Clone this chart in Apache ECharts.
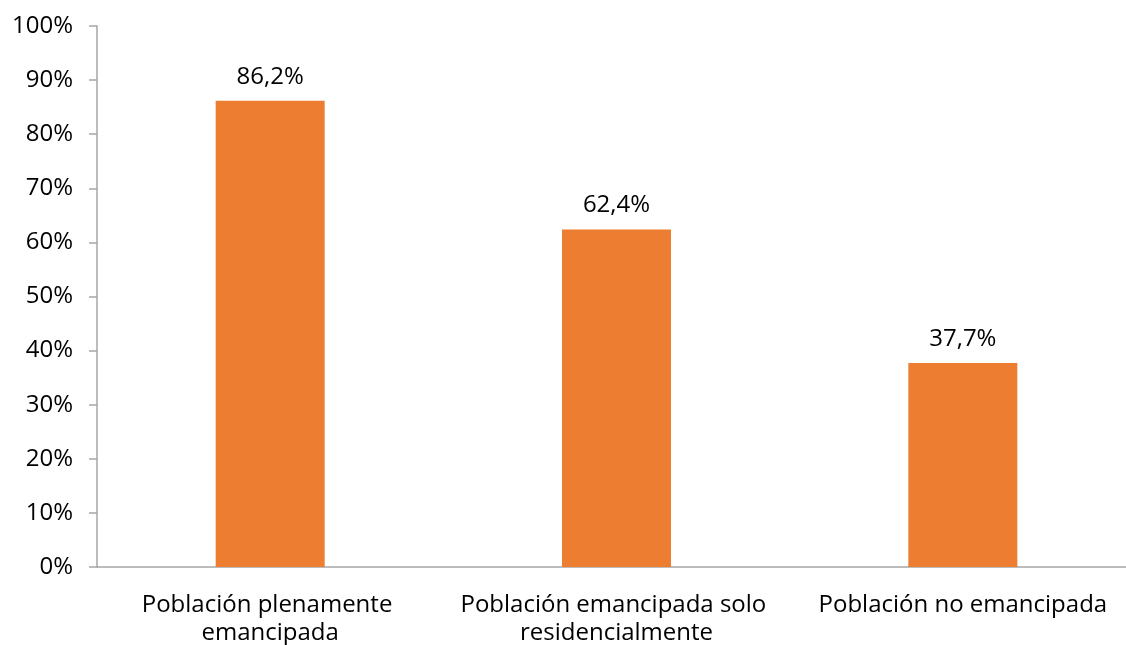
<!DOCTYPE html>
<html>
<head>
<meta charset="utf-8">
<script src="https://cdn.jsdelivr.net/npm/echarts@6/dist/echarts.min.js"></script>
<style>
  html, body { margin: 0; padding: 0; background: #fff; }
  #chart { width: 1126px; height: 645px; }
</style>
</head>
<body>
<div id="chart"></div>
<script>
const categories = [
  "Población plenamente emancipada",
  "Población emancipada solo residencialmente",
  "Población no emancipada"
];
const values = [86.2, 62.4, 37.7];
const yTicks = [0, 10, 20, 30, 40, 50, 60, 70, 80, 90, 100];

const font = "'Open Sans', 'Noto Sans', sans-serif";
const chart = echarts.init(document.getElementById("chart"), null, { renderer: "canvas" });

chart.setOption({
  animation: false,
  grid: { left: 97, width: 1039, top: 26, bottom: 78, containLabel: false, outerBoundsMode: "none" },
  xAxis: {
    type: "category",
    data: categories,
    axisLine: { lineStyle: { color: "#a6a6a6", width: 1.5 } },
    axisTick: { show: false },
    axisLabel: {
      color: "#000",
      fontFamily: font,
      fontSize: 24,
      lineHeight: 28,
      margin: 24,
      width: 345,
      overflow: "break",
      interval: 0
    }
  },
  yAxis: {
    type: "value",
    min: yTicks[0],
    max: yTicks[yTicks.length - 1],
    interval: 10,
    splitLine: { show: false },
    axisLine: { show: true, lineStyle: { color: "#a6a6a6", width: 1.5 } },
    axisTick: { show: true, length: 8, lineStyle: { color: "#a6a6a6", width: 1.5 } },
    axisLabel: {
      color: "#000",
      fontFamily: font,
      fontSize: 24,
      margin: 24,
      formatter: v => v + "%"
    }
  },
  series: [{
    type: "bar",
    data: values,
    barWidth: 109,
    itemStyle: { color: "#ED7D31" },
    label: {
      show: true,
      position: "top",
      distance: 12,
      color: "#000",
      fontFamily: font,
      fontSize: 24,
      formatter: p => p.value.toFixed(1).replace(".", ",") + "%"
    }
  }]
});
</script>
</body>
</html>
